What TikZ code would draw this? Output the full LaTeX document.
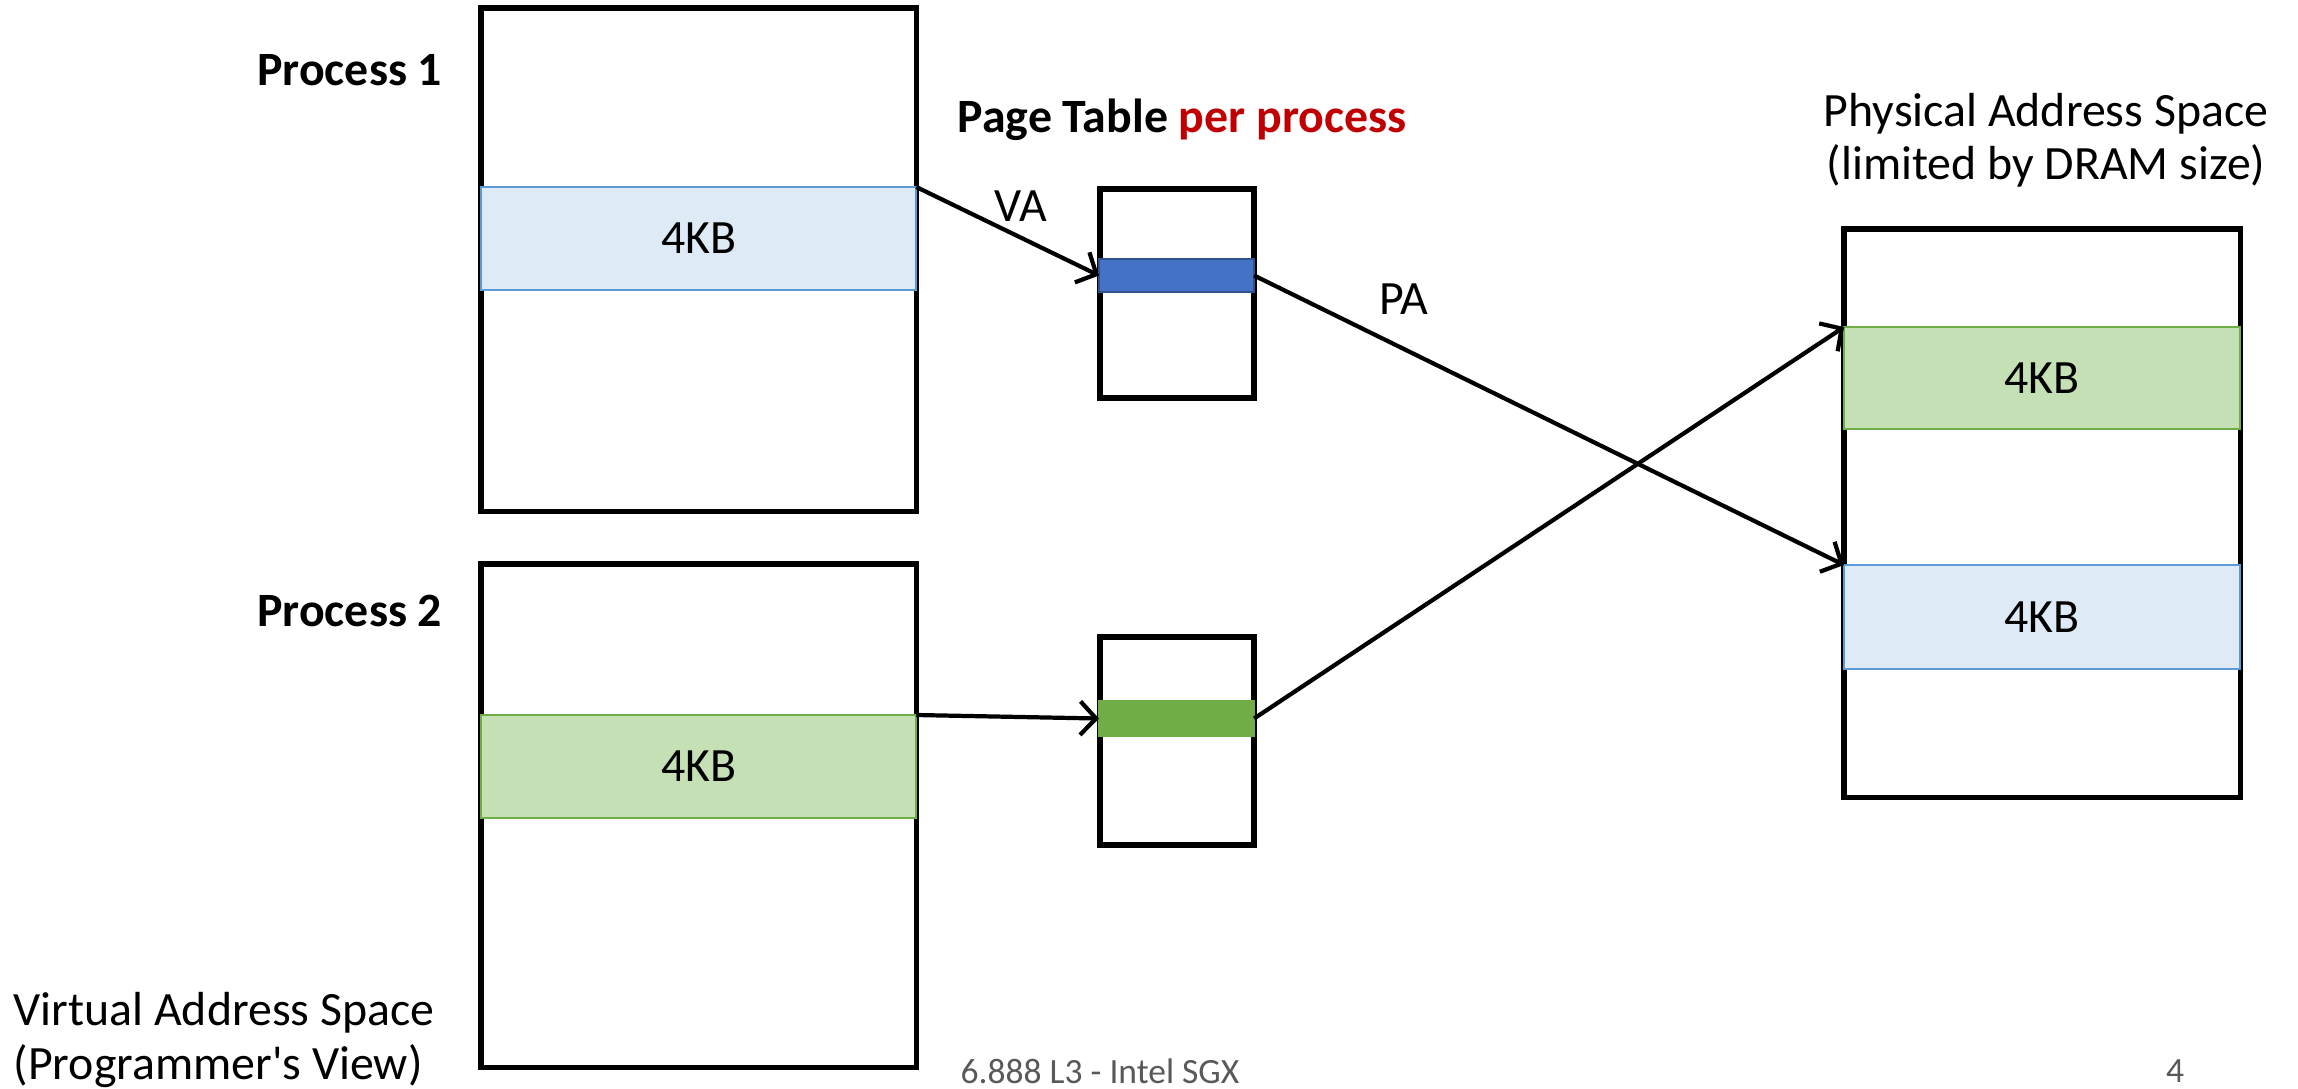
\documentclass[tikz,border=0pt]{standalone}
\usepackage{fontspec}
\setmainfont{Carlito}
\usepackage{xcolor}
\usetikzlibrary{arrows.meta}

\definecolor{bluepage}{HTML}{DEEBF7}
\definecolor{blueedge}{HTML}{5B9BD5}
\definecolor{greenpage}{HTML}{C5E0B4}
\definecolor{greenedge}{HTML}{70AD47}
\definecolor{bluerow}{HTML}{4472C4}
\definecolor{bluerowedge}{HTML}{2F528F}
\definecolor{greenrow}{HTML}{70AD47}
\definecolor{perred}{HTML}{C00000}
\definecolor{footgray}{HTML}{595959}

\begin{document}
\begin{tikzpicture}[x=0.01cm, y=-0.01cm,
    every node/.style={font=\fontsize{13.6}{15.2}\selectfont},
    box/.style={draw=black, line width=1.55pt, inner sep=0pt, outer sep=0pt, anchor=north west},
    page/.style={line width=0.5pt, inner sep=0pt, outer sep=0pt, anchor=north west},
    link/.style={line width=1.2pt, -{Straight Barb[length=4.5pt,width=9.5pt]}}]
    \useasboundingbox (0,0) rectangle (2298,1088);

    % Virtual address spaces
    \node[box, minimum width=4.35cm, minimum height=5.03cm] (proc1) at (481,8) {};
    \node[box, minimum width=4.35cm, minimum height=5.03cm] (proc2) at (481,564) {};
    \node[page, fill=bluepage, draw=blueedge, minimum width=4.35cm, minimum height=1.03cm] (vpage1) at (481,187) {4KB};
    \node[page, fill=greenpage, draw=greenedge, minimum width=4.35cm, minimum height=1.03cm] (vpage2) at (481,715) {4KB};

    % Page tables
    \node[box, minimum width=1.54cm, minimum height=2.09cm] (table1) at (1100,189) {};
    \node[box, minimum width=1.54cm, minimum height=2.08cm] (table2) at (1100,637) {};
    \node[page, fill=bluerow, draw=bluerowedge, minimum width=1.55cm, minimum height=0.33cm] (row1) at (1099,259) {};
    \node[page, fill=greenrow, draw=greenrow, minimum width=1.55cm, minimum height=0.35cm] (row2) at (1099,701) {};

    % Physical address space
    \node[box, minimum width=3.96cm, minimum height=5.68cm] (phys) at (1844,229) {};
    \node[page, fill=greenpage, draw=greenedge, minimum width=3.96cm, minimum height=1.02cm] (ppage2) at (1844,327) {4KB};
    \node[page, fill=bluepage, draw=blueedge, minimum width=3.96cm, minimum height=1.04cm] (ppage1) at (1844,565) {4KB};

    % Translations
    \draw[link] (vpage1.north east) -- (row1.west);
    \draw[link] (row1.east) -- (ppage1.north west);
    \draw[link] (vpage2.north east) -- (row2.west);
    \draw[link] (row2.east) -- (ppage2.north west);

    % Labels
    \node[anchor=east, inner sep=0pt] (lproc1) at (443,70) {\textbf{Process 1}};
    \node[anchor=east, inner sep=0pt] (lproc2) at (443,611) {\textbf{Process 2}};
    \node[anchor=west, inner sep=0pt] (ltable) at (957,120) {\textbf{Page Table \textcolor{perred}{per process}}};
    \node (lva) at (1021,206) {VA};
    \node (lpa) at (1404,299) {PA};
    \node[align=center] (lphys) at (2046,140) {Physical Address Space\\ (limited by DRAM size)};
    \node[align=left, anchor=west, inner sep=0pt] (lvirt) at (13,1040) {Virtual Address Space\\(Programmer\textquotesingle s View)};

    % Footer
    \node[font=\fontsize{10.1}{12}\selectfont, text=footgray, inner sep=0pt] (footer) at (1100,1071) {6.888 L3 - Intel SGX};
    \node[font=\fontsize{10.1}{12}\selectfont, text=footgray, inner sep=0pt] (slideno) at (2175,1071) {4};
\end{tikzpicture}
\end{document}
